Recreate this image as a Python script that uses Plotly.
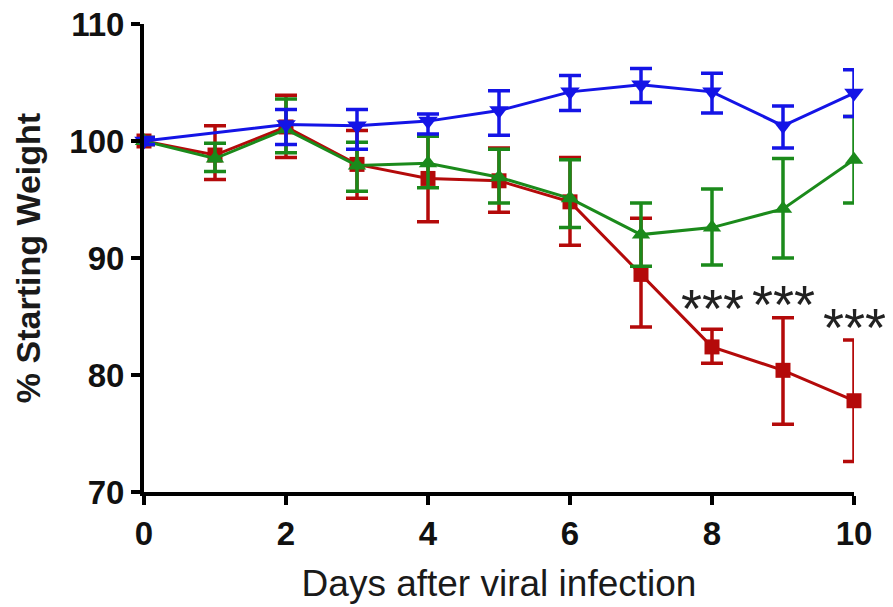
import plotly.graph_objects as go

# ---- data ----
days_all = [0, 1, 2, 3, 4, 5, 6, 7, 8, 9, 10]
days_blue = [0, 2, 3, 4, 5, 6, 7, 8, 9, 10]

blue_mean = [100.0, 101.4, 101.3, 101.7, 102.6, 104.2, 104.8, 104.2, 101.3, 104.1]
blue_up = [100.3, 102.7, 102.7, 102.3, 104.3, 105.6, 106.2, 105.8, 103.0, 106.1]
blue_lo = [99.7, 99.7, 99.3, 100.6, 100.5, 102.6, 103.3, 102.4, 99.4, 102.1]

red_mean = [100.0, 98.8, 101.2, 98.0, 96.8, 96.6, 94.8, 88.6, 82.4, 80.4, 77.8]
red_up = [100.3, 101.3, 103.9, 100.9, 100.5, 99.4, 98.6, 93.4, 83.9, 84.9, 83.0]
red_lo = [99.7, 96.7, 98.6, 95.1, 93.1, 93.9, 91.1, 84.1, 81.0, 75.8, 72.6]

green_mean = [100.0, 98.5, 101.0, 97.9, 98.1, 96.9, 95.1, 92.0, 92.6, 94.2, 98.4]
green_up = [100.3, 99.8, 103.6, 99.9, 100.4, 99.3, 98.4, 94.7, 95.9, 98.5, 102.1]
green_lo = [99.7, 97.4, 99.0, 95.7, 96.0, 94.7, 92.6, 89.3, 89.4, 90.0, 94.7]

star_days = [8, 9, 10]
star_y = [86.2, 86.6, 84.6]
star_text = ["***", "***", "***"]

x_ticks = [0, 2, 4, 6, 8, 10]
y_ticks = [70, 80, 90, 100, 110]


def err(mean, up, lo):
    return dict(
        type="data", symmetric=False,
        array=[u - m for u, m in zip(up, mean)],
        arrayminus=[m - l for m, l in zip(mean, lo)],
    )


series = [
    ("red", days_all, red_mean, red_up, red_lo, "#b40a0a", "square", 15),
    ("green", days_all, green_mean, green_up, green_lo, "#1b8a1b", "triangle-up", 16),
    ("blue", days_blue, blue_mean, blue_up, blue_lo, "#1414e6", "triangle-down", 17),
]

fig = go.Figure()
for name, xs, m, u, l, col, sym, sz in series:
    e = err(m, u, l)
    e.update(color=col, thickness=3.5, width=11)
    fig.add_trace(go.Scatter(
        x=xs, y=m, name=name, mode="lines+markers",
        line=dict(color=col, width=3),
        marker=dict(symbol=sym, size=sz, color=col),
        error_y=e, cliponaxis=False, showlegend=False,
    ))

for d, yv, t in zip(star_days, star_y, star_text):
    fig.add_annotation(x=d, y=yv, text=t, showarrow=False, yshift=-6,
                       font=dict(family="Liberation Sans, Arial", size=54, color="#222222"))

# the page body has an 8px default margin, so margins are shifted to compensate
fig.update_layout(
    width=893, height=607,
    margin=dict(l=136, r=47, t=16, b=123),
    paper_bgcolor="white", plot_bgcolor="white",
    font=dict(family="Liberation Sans, Arial", color="#111111"),
)
fig.update_xaxes(
    range=[0, 10], tickvals=x_ticks, ticktext=[f"<b>{v}</b>" for v in x_ticks],
    showgrid=False, zeroline=False, showline=True, linecolor="black", linewidth=4,
    ticks="outside", ticklen=9, tickwidth=4, tickcolor="black",
    tickfont=dict(size=33, color="#111111"), automargin=False, ticklabeloverflow="allow",
    title=dict(text="Days after viral infection", font=dict(size=37, color="#1a1a1a"), standoff=21),
)
fig.update_yaxes(
    range=[70, 110], tickvals=y_ticks, ticktext=[f"<b>{v}</b>" for v in y_ticks],
    showgrid=False, zeroline=False, showline=True, linecolor="black", linewidth=4,
    ticks="outside", ticklen=9, tickwidth=4, tickcolor="black",
    tickfont=dict(size=33, color="#111111"), automargin=False, ticklabeloverflow="allow",
    title=dict(text="<b>% Starting Weight</b>", font=dict(size=34, color="#1a1a1a"), standoff=19),
)

fig.write_html("out.html")
